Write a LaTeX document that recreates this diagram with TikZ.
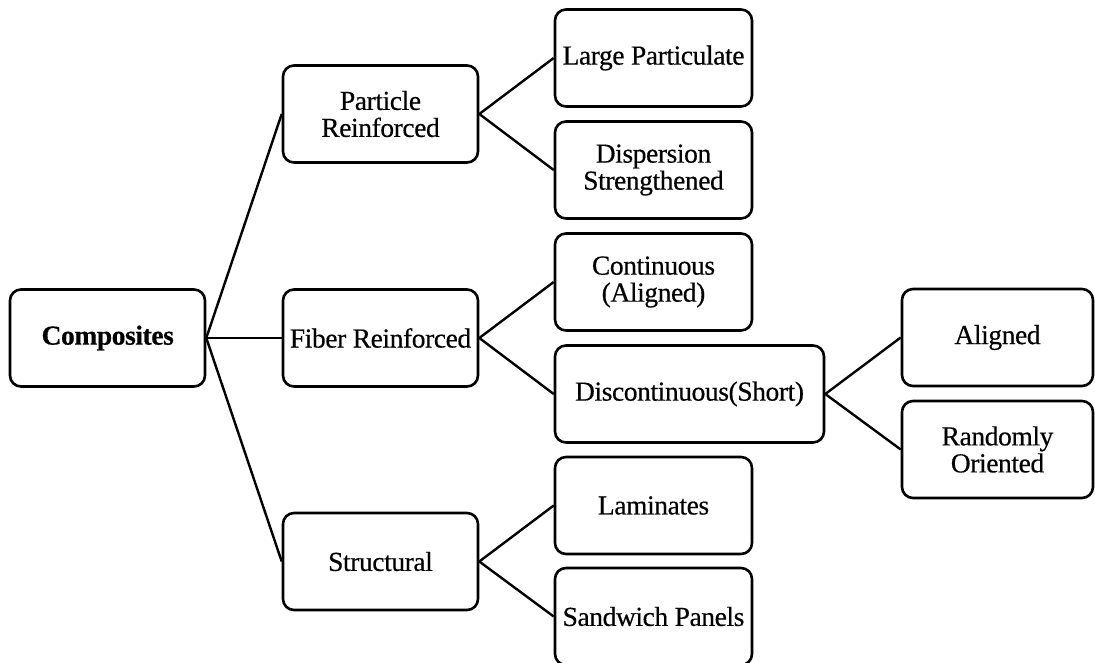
\documentclass[tikz,border=0pt]{standalone}
\usepackage{fontspec}
\setmainfont{Liberation Serif}[FakeBold=0.4, LetterSpace=-1.5]
\begin{document}
\begin{tikzpicture}[x=1pt,y=-1pt,
  box/.style={draw=black, line width=2.6pt, rounded corners=11pt, fill=white,
    inner sep=0pt, align=center, minimum height=97pt,
    font=\fontsize{27.5}{27}\selectfont},
  wide/.style={box, minimum width=195pt},
  leaf/.style={box, minimum width=197pt},
  link/.style={draw=black, line width=2.4pt}]
\useasboundingbox (0,0) rectangle (1095,663);

% root
\node[wide] (comp) at (107.5,338) {\textbf{Composites}};

% first level
\node[wide] (part)   at (380.5,114)   {Particle\\Reinforced};
\node[wide] (fiber)  at (380.5,338)   {Fiber Reinforced};
\node[wide] (struct) at (380.5,561.5) {Structural};

% second level
\node[leaf] (large) at (653.5,58)    {Large Particulate};
\node[leaf] (disp)  at (653.5,170)   {Dispersion\\Strengthened};
\node[leaf] (cont)  at (653.5,282)   {Continuous\\(Aligned)};
\node[box, minimum width=269pt] (disc) at (689.5,394) {Discontinuous(Short)};
\node[leaf] (lam)   at (653.5,505.5) {Laminates};
\node[leaf] (sand)  at (653.5,616.5) {Sandwich Panels};

% third level
\node[box, minimum width=191pt] (alig) at (997.5,337.5) {Aligned};
\node[box, minimum width=191pt] (rand) at (997.5,449.5) {Randomly\\Oriented};

% connectors
\draw[link] (comp.east) -- (part.west);
\draw[link] (comp.east) -- (fiber.west);
\draw[link] (comp.east) -- (struct.west);
\draw[link] (part.east) -- (large.west);
\draw[link] (part.east) -- (disp.west);
\draw[link] (fiber.east) -- (cont.west);
\draw[link] (fiber.east) -- (disc.west);
\draw[link] (struct.east) -- (lam.west);
\draw[link] (struct.east) -- (sand.west);
\draw[link] (disc.east) -- (alig.west);
\draw[link] (disc.east) -- (rand.west);
\end{tikzpicture}
\end{document}
